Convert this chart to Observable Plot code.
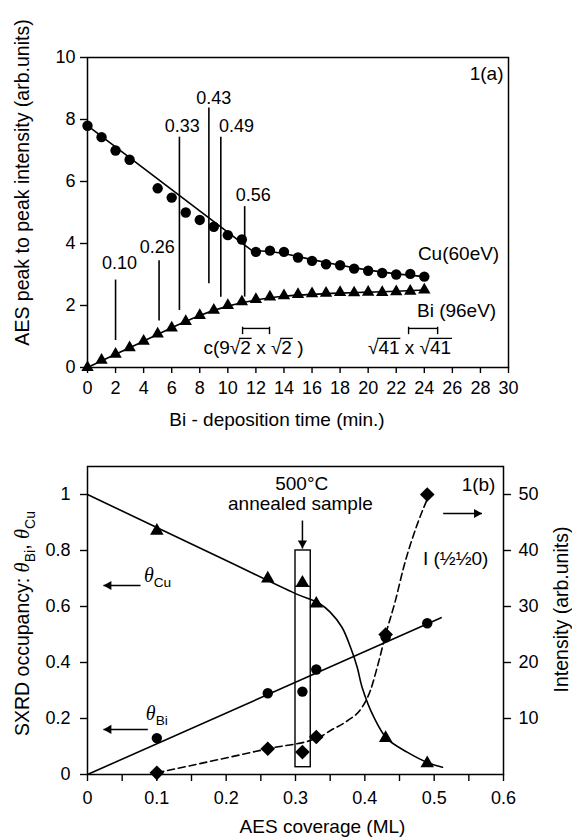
<!DOCTYPE html>
<html><head><meta charset="utf-8">
<script src="https://cdn.jsdelivr.net/npm/d3@7"></script>
<script src="https://cdn.jsdelivr.net/npm/@observablehq/plot@0.6"></script>
<style>
html,body{margin:0;padding:0;background:#fff;}
#chart{width:572px;height:838px;overflow:hidden;}
#chart svg{display:block;}
</style></head><body><div id="chart"></div>
<script>
// ---------- Panel 1(a): AES intensity vs Bi deposition time ----------
const cuTime = [0,1,2,3,5,6,7,8,9,10,11,12,13,14,15,16,17,18,19,20,21,22,23,24];
const cuIntensity = [7.8,7.43,7.0,6.7,5.78,5.48,5.0,4.76,4.54,4.27,4.13,3.73,3.77,3.73,3.55,3.44,3.33,3.3,3.19,3.12,3.05,3.0,3.02,2.93];
const biTime = [0,1,2,3,4,5,6,7,8,9,10,11,12,13,14,15,16,17,18,19,20,21,22,23,24];
const biIntensity = [0.0,0.24,0.43,0.64,0.85,1.08,1.28,1.49,1.68,1.85,2.0,2.12,2.2,2.28,2.32,2.36,2.38,2.4,2.42,2.41,2.43,2.42,2.45,2.46,2.5];
const cuFitTime = [0,11.7,13,14,16,18,20,22,24];
const cuFitValue = [7.8,3.78,3.74,3.68,3.48,3.3,3.14,3.02,2.93];
const biFitTime = [0,2,4,6,8,10,12,14,16,18,20,22,24];
const biFitValue = [0,0.43,0.85,1.28,1.68,1.98,2.18,2.3,2.36,2.4,2.43,2.46,2.5];
const coverageLabels = ["0.10","0.26","0.33","0.43","0.49","0.56"];
const coverageTime = [2,5.1,6.55,8.65,9.5,11.2];
const coverageLineLow = [0.87,1.5,1.84,2.7,2.27,2.27];
const coverageLineHigh = [2.82,3.44,7.43,8.37,7.43,5.19];
const coverageLabelX = [2.28,4.97,6.75,9.0,10.62,11.81];
const coverageLabelY = [3.35,3.88,7.77,8.67,7.77,5.55];
const timeTicks = [0,2,4,6,8,10,12,14,16,18,20,22,24,26,28,30];
const aesTicks = [0,2,4,6,8,10];
const aNoteText = ["Cu(60eV)","Bi (96eV)","1(a)","c(9√~{2} x √~{2} )","√~{41} x √~{41}"];
const aNoteX = [26.44,26.3,28.44,11.83,22.95];
const aNoteY = [3.68,1.84,9.48,0.645,0.645];
const bracketX1 = [11.05,22.88];
const bracketX2 = [12.97,24.95];
const bracketY = [1.26,1.26];

// ---------- Panel 1(b): SXRD occupancy vs AES coverage ----------
const coverage = [0.10,0.26,0.33,0.43,0.49];
const thetaCu = [0.87,0.70,0.61,0.13,0.04];
const thetaBi = [0.13,0.29,0.375,0.49,0.54];
const intensityHalf = [0.3,4.6,6.7,25,50];
const annealedCoverage = [0.31];
const annealedThetaCu = [0.685];
const annealedThetaBi = [0.296];
const annealedIntensity = [4.0];
const cuFitCov = [0,0.2,0.3,0.335,0.35,0.367,0.38,0.389,0.396,0.413,0.432,0.461,0.493,0.512];
const cuFitTheta = [1,0.764,0.646,0.61,0.58,0.526,0.45,0.383,0.312,0.205,0.128,0.08,0.04,0.026];
const biFitCov = [0,0.51];
const biFitTheta = [0,0.56];
const intFitCov = [0.1,0.26,0.335,0.351,0.375,0.396,0.408,0.418,0.43,0.444,0.456,0.476,0.493];
const intFitValue = [0.3,4.6,6.7,7.9,9.6,12,15,19.2,25,31,37,44.8,50];
const covTickValues = [0,0.05,0.1,0.15,0.2,0.25,0.3,0.35,0.4,0.45,0.5,0.55,0.6];
const covTickLabels = ["0","","0.1","","0.2","","0.3","","0.4","","0.5","","0.6"];
const occTicks = [0,0.2,0.4,0.6,0.8,1];
const occTickLabels = ["0","0.2","0.4","0.6","0.8","1"];
const intTicks = [10,20,30,40,50];
const bNoteText = ["500°C","annealed sample","1(b)","I (½½0)","*{θ}_{Cu}","*{θ}_{Bi}"];
const bNoteX = [0.309,0.307,0.564,0.531,0.101,0.1];
const bNoteY = [1.039,0.968,1.036,0.771,0.71,0.218];
const boxX1 = [0.300], boxX2 = [0.322], boxY1 = [0.026], boxY2 = [0.80];
const boxInnerY = [0.672];
const arrowX1 = [0.31,0.0765,0.087,0.513];
const arrowY1 = [0.907,0.675,0.161,0.932];
const arrowX2 = [0.31,0.023,0.023,0.569];
const arrowY2 = [0.807,0.675,0.161,0.932];
const arrowDir = ["down","left","left","right"];

const zip = (cols) => cols[Object.keys(cols)[0]].map((_, i) => Object.fromEntries(Object.entries(cols).map(([k, v]) => [k, v[i]])));

const font = "'Liberation Sans', Arial, Helvetica, sans-serif";
const LW = 1.6;

function arrowMarks(arrows) {
  const hr = 3.4, off = 1.555 * hr;
  const marks = [Plot.link(arrows, {x1: "x1", y1: "y1", x2: "x2", y2: "y2", stroke: "black", strokeWidth: 1.5})];
  for (const a of arrows) {
    const rot = a.dir === "left" ? -90 : a.dir === "right" ? 90 : 180;
    const dx = a.dir === "left" ? off : a.dir === "right" ? -off : 0;
    const dy = a.dir === "down" ? -off : 0;
    marks.push(Plot.dot([a], {x: "x2", y: "y2", symbol: "triangle", r: hr, fill: "black", stroke: "none", rotate: rot, dx, dy}));
  }
  return marks;
}

// Panel (a)
const cuRows = zip({t: cuTime, v: cuIntensity});
const biRows = zip({t: biTime, v: biIntensity});
const cuFit = zip({t: cuFitTime, v: cuFitValue});
const biFit = zip({t: biFitTime, v: biFitValue});
const covRows = zip({label: coverageLabels, t: coverageTime, lo: coverageLineLow, hi: coverageLineHigh, lx: coverageLabelX, ly: coverageLabelY});
const aNotes = zip({text: aNoteText, x: aNoteX, y: aNoteY});
const brackets = zip({x1: bracketX1, x2: bracketX2, y: bracketY});
const bracketEnds = brackets.flatMap(b => [{x: b.x1, y: b.y}, {x: b.x2, y: b.y}]);

const titleOpts = {text: d => d, textAnchor: "middle", lineAnchor: "middle"};

const plotA = Plot.plot({
  width: 572, height: 430,
  marginLeft: 87, marginRight: 64, marginTop: 57, marginBottom: 63,
  x: {domain: [0, 30]},
  y: {domain: [0, 10]},
  style: {fontFamily: font, fontSize: "18px", color: "black", background: "white"},
  marks: [
    Plot.axisX({ticks: timeTicks, tickSize: 6, tickPadding: 8, label: null, strokeWidth: 1.4}),
    Plot.axisY({ticks: aesTicks, tickSize: 7, tickPadding: 5, label: null, strokeWidth: 1.4}),
    Plot.line(cuFit, {x: "t", y: "v", stroke: "black", strokeWidth: LW}),
    Plot.line(biFit, {x: "t", y: "v", curve: "monotone-x", stroke: "black", strokeWidth: LW}),
    Plot.ruleX(covRows, {x: "t", y1: "lo", y2: "hi", stroke: "black", strokeWidth: LW}),
    Plot.text(covRows, {x: "lx", y: "ly", text: "label", fontSize: 18}),
    Plot.dot(cuRows, {x: "t", y: "v", r: 5.2, fill: "black", stroke: "none"}),
    Plot.dot(biRows, {x: "t", y: "v", symbol: "triangle", r: 4.6, fill: "black", stroke: "none"}),
    Plot.text(aNotes, {x: "x", y: "y", text: "text", fontSize: 19}),
    Plot.ruleY(brackets, {x1: "x1", x2: "x2", y: "y", stroke: "black", strokeWidth: 1.4}),
    Plot.ruleX(bracketEnds, {x: "x", y1: d => d.y - 0.2, y2: d => d.y + 0.04, stroke: "black", strokeWidth: 1.4}),
    Plot.text(["Bi - deposition time (min.)"], {...titleOpts, frameAnchor: "bottom", dy: 52, dx: -21, fontSize: 19}),
    Plot.text(["AES peak to peak intensity (arb.units)"], {...titleOpts, frameAnchor: "left", rotate: -90, dx: -65, dy: -30, fontSize: 19.5}),
    Plot.frame({stroke: "black", strokeWidth: 1.5})
  ]
});

// Panel (b)
const obsRows = zip({c: coverage, cu: thetaCu, bi: thetaBi, I: intensityHalf});
const annRows = zip({c: annealedCoverage, cu: annealedThetaCu, bi: annealedThetaBi, I: annealedIntensity});
const cuFitB = zip({c: cuFitCov, v: cuFitTheta});
const biFitB = zip({c: biFitCov, v: biFitTheta});
const intFit = zip({c: intFitCov, I: intFitValue});
const bNotes = zip({text: bNoteText, x: bNoteX, y: bNoteY});
const boxRows = zip({x1: boxX1, x2: boxX2, y1: boxY1, y2: boxY2});
const boxInner = zip({y: boxInnerY, x1: boxX1, x2: boxX2});
const arrows = zip({x1: arrowX1, y1: arrowY1, x2: arrowX2, y2: arrowY2, dir: arrowDir});
const covFmt = new Map(covTickValues.map((v, i) => [v, covTickLabels[i]]));
const occFmt = new Map(occTicks.map((v, i) => [v, occTickLabels[i]]));
const INT_SCALE = 50; // right axis: intensity 50 ↔ occupancy 1

const plotB = Plot.plot({
  width: 572, height: 408,
  marginLeft: 87, marginRight: 69, marginTop: 36, marginBottom: 64,
  x: {domain: [0, 0.6]},
  y: {domain: [0, 1.1]},
  style: {fontFamily: font, fontSize: "18px", color: "black", background: "white"},
  marks: [
    Plot.axisX({ticks: covTickValues, tickFormat: d => covFmt.get(d) ?? "", tickSize: 7, tickPadding: 10, label: null, strokeWidth: 1.4}),
    Plot.axisY({ticks: occTicks, tickFormat: d => occFmt.get(d) ?? "", tickSize: 7, tickPadding: 10, label: null, strokeWidth: 1.4}),
    Plot.axisY({anchor: "right", ticks: intTicks.map(v => v / INT_SCALE), tickFormat: d => String(Math.round(d * INT_SCALE)), tickSize: 7, tickPadding: 8, label: null, strokeWidth: 1.4}),
    Plot.line(cuFitB, {x: "c", y: "v", curve: "catmull-rom", stroke: "black", strokeWidth: LW}),
    Plot.line(biFitB, {x: "c", y: "v", stroke: "black", strokeWidth: LW}),
    Plot.line(intFit, {x: "c", y: d => d.I / INT_SCALE, curve: "monotone-x", stroke: "black", strokeWidth: LW, strokeDasharray: "7,4"}),
    Plot.rect(boxRows, {x1: "x1", x2: "x2", y1: "y1", y2: "y2", fill: "none", stroke: "black", strokeWidth: 1.4}),
    Plot.ruleY(boxInner, {y: "y", x1: "x1", x2: "x2", stroke: "black", strokeWidth: 1.2}),
    Plot.dot(obsRows, {x: "c", y: "cu", symbol: "triangle", r: 5, fill: "black", stroke: "none"}),
    Plot.dot(annRows, {x: "c", y: "cu", symbol: "triangle", r: 5, fill: "black", stroke: "none"}),
    Plot.dot(obsRows, {x: "c", y: "bi", r: 5.2, fill: "black", stroke: "none"}),
    Plot.dot(annRows, {x: "c", y: "bi", r: 5.2, fill: "black", stroke: "none"}),
    Plot.dot(obsRows, {x: "c", y: d => d.I / INT_SCALE, symbol: "diamond2", r: 6.6, fill: "black", stroke: "none"}),
    Plot.dot(annRows, {x: "c", y: d => d.I / INT_SCALE, symbol: "diamond2", r: 6.6, fill: "black", stroke: "none"}),
    ...arrowMarks(arrows),
    Plot.text(bNotes, {x: "x", y: "y", text: "text", fontSize: 19}),
    Plot.text(["AES coverage (ML)"], {...titleOpts, frameAnchor: "bottom", dy: 52, dx: 27, fontSize: 19}),
    Plot.text(["SXRD occupancy: *{θ}_{Bi}, *{θ}_{Cu}"], {...titleOpts, frameAnchor: "left", rotate: -90, dx: -65, dy: 3, fontSize: 19.5}),
    Plot.text(["Intensity (arb.units)"], {...titleOpts, frameAnchor: "right", rotate: -90, dx: 58, dy: -11, fontSize: 19.5}),
    Plot.frame({stroke: "black", strokeWidth: 1.5})
  ]
});

const chart = document.getElementById("chart");
chart.appendChild(plotA);
chart.appendChild(plotB);

// rich text: _{sub}, ~{overline (radical vinculum)}, *{italic serif}
function richify(svg) {
  const NS = "http://www.w3.org/2000/svg";
  svg.querySelectorAll("text").forEach(el => {
    const s = el.textContent;
    if (!/[_~*]\{/.test(s)) return;
    const fs = parseFloat(getComputedStyle(el).fontSize) || 18;
    el.textContent = "";
    const re = /([_~*])\{([^}]*)\}|([^_~*]+)/g;
    let m, shift = 0, idx = 0;
    const over = [];
    while ((m = re.exec(s))) {
      const t = document.createElementNS(NS, "tspan");
      let target = 0;
      if (m[1] === "_") {
        target = 0.3 * fs;
        t.setAttribute("font-size", (0.72 * fs) + "px");
        t.textContent = m[2];
      } else if (m[1] === "~") {
        t.textContent = m[2];
        over.push([idx, idx + m[2].length]);
      } else if (m[1] === "*") {
        t.setAttribute("font-style", "italic");
        t.setAttribute("font-family", "'Liberation Serif', 'DejaVu Serif', serif");
        t.setAttribute("font-size", (1.05 * fs) + "px");
        t.textContent = m[2];
      } else {
        t.textContent = m[3];
      }
      if (target !== shift) { t.setAttribute("dy", target - shift); shift = target; }
      idx += t.textContent.length;
      el.appendChild(t);
    }
    for (const [a, b] of over) {
      const startX = a > 0 ? el.getEndPositionOfChar(a - 1).x - 1.2 : el.getStartPositionOfChar(a).x;
      const endX = el.getEndPositionOfChar(b - 1).x + 0.8;
      const yy = el.getStartPositionOfChar(a).y - 0.8 * fs;
      const ln = document.createElementNS(NS, "line");
      ln.setAttribute("x1", startX); ln.setAttribute("x2", endX);
      ln.setAttribute("y1", yy); ln.setAttribute("y2", yy);
      ln.setAttribute("stroke", "black"); ln.setAttribute("stroke-width", "1.3");
      const tr = el.getAttribute("transform");
      if (tr) ln.setAttribute("transform", tr);
      el.parentNode.appendChild(ln);
    }
  });
}
richify(plotA);
richify(plotB);
</script>
</body></html>
